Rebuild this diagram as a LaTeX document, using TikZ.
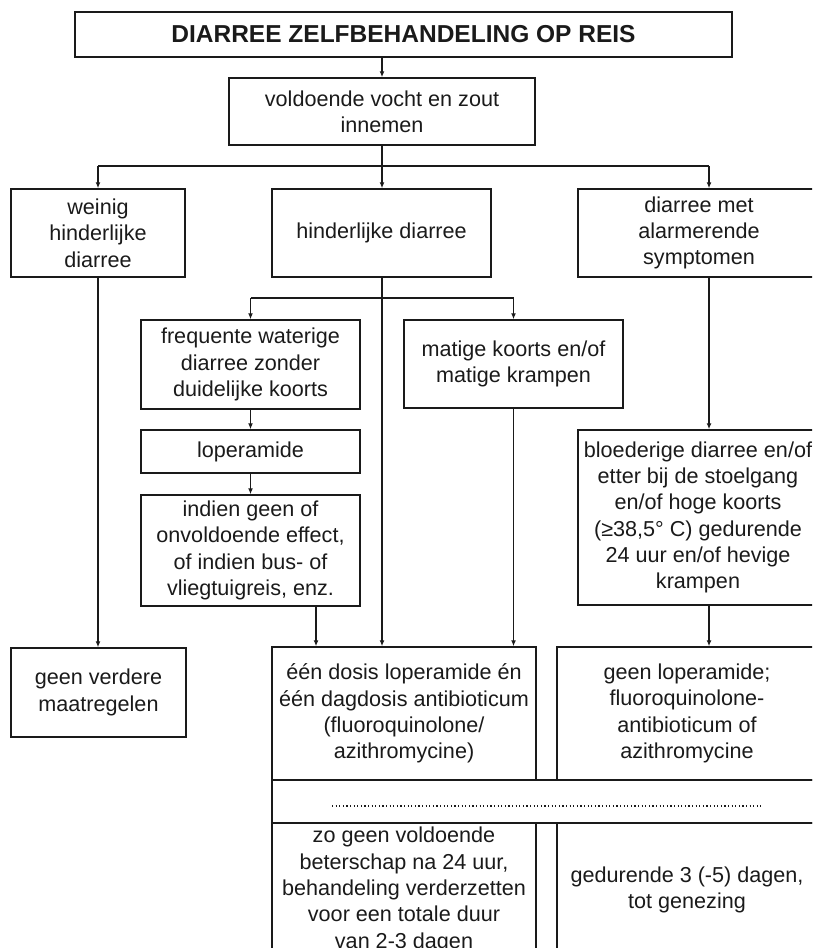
\documentclass[tikz,border=0pt]{standalone}
\usepackage{fontspec}
\setmainfont{Liberation Sans}
\usetikzlibrary{arrows.meta,calc}
\definecolor{ink}{HTML}{1A1A1A}
\begin{document}
\begin{tikzpicture}[x=1pt,y=-1pt,
  box/.style={draw=ink, line width=1.5pt, align=center, inner sep=0pt,
    font=\fontsize{21.6pt}{26.3pt}\selectfont, text=ink},
  conn/.style={draw=ink, line width=1.3pt},
  arr/.style={conn, -{Latex[length=6pt,width=5pt]}}]
\clip (0,0) rectangle (812,948);
% nodes
\node[box, minimum width=657pt, minimum height=45pt] (title) at (403.5,34.5)
  {\fontsize{24.5pt}{28pt}\selectfont\bfseries DIARREE ZELFBEHANDELING OP REIS};
\node[box, minimum width=306pt, minimum height=67pt] (vocht) at (382,111.5)
  {voldoende vocht en zout\\innemen};
\node[box, minimum width=174pt, minimum height=88pt] (weinig) at (98,233)
  {weinig\\hinderlijke\\diarree};
\node[box, minimum width=219pt, minimum height=88pt] (hinder) at (381.5,233)
  {hinderlijke diarree};
\node[box, minimum width=242pt, minimum height=88pt] (alarm) at (699,233)
  {diarree met\\alarmerende\\symptomen};
\node[box, minimum width=219pt, minimum height=89pt] (freq) at (250.5,364.5)
  {frequente waterige\\diarree zonder\\duidelijke koorts};
\node[box, minimum width=219pt, minimum height=88pt] (matig) at (513.5,364)
  {matige koorts en/of\\matige krampen};
\node[box, minimum width=219pt, minimum height=43pt] (lopera) at (250.5,451.5)
  {loperamide};
\node[box, minimum width=219pt, minimum height=111pt] (indien) at (250.5,550.5)
  {indien geen of\\onvoldoende effect,\\of indien bus- of\\vliegtuigreis, enz.};
\node[box, minimum width=240pt, minimum height=175pt] (bloed) at (698,517.5)
  {bloederige diarree en/of\\etter bij de stoelgang\\en/of hoge koorts\\(≥38,5° C) gedurende\\24 uur en/of hevige\\krampen};
\node[box, minimum width=175pt, minimum height=89pt] (verder) at (98.5,692.5)
  {geen verdere\\maatregelen};
\node[box, minimum width=558pt, minimum height=43pt] (band) at (551,801.5) {};
\node[box, minimum width=264pt, minimum height=133pt] (dosis) at (404,713.5)
  {één dosis loperamide én\\één dagdosis antibioticum\\(fluoroquinolone/\\azithromycine)};
\node[box, minimum width=260pt, minimum height=133pt] (geenlop) at (687,713.5)
  {geen loperamide;\\fluoroquinolone-\\antibioticum of\\azithromycine};
\node[box, minimum width=264pt, minimum height=134pt] (zogeen) at (404,890)
  {zo geen voldoende\\beterschap na 24 uur,\\behandeling verderzetten\\voor een totale duur\\van 2-3 dagen};
\node[box, minimum width=260pt, minimum height=134pt] (gedur) at (687,890)
  {gedurende 3 (-5) dagen,\\tot genezing};
% dotted line inside band
\coordinate (dotL) at (332,806);
\coordinate (dotR) at (761,806);
\draw[ink, line width=1.2pt, dash pattern=on 1.2pt off 2.4pt] (dotL) -- (dotR);
% helper coordinates
\coordinate (bus1) at (0,166);
\coordinate (bus2) at (0,298);
\coordinate (rx) at (709,0);
\coordinate (ix) at (316,0);
\coordinate (mx) at (382,0);
% connectors
\draw[arr] (title.south -| vocht.north) -- (vocht.north);
\draw[conn] (vocht.south) -- (bus1 -| vocht.south);
\draw[conn] (bus1 -| weinig.north) -- (bus1 -| rx);
\draw[arr] (bus1 -| weinig.north) -- (weinig.north);
\draw[arr] (bus1 -| mx) -- (hinder.north -| mx);
\draw[arr] (bus1 -| rx) -- (alarm.north -| rx);
\draw[conn] (bus2 -| freq.north) -- (bus2 -| matig.north);
\draw[arr] (bus2 -| freq.north) -- (freq.north);
\draw[arr] (bus2 -| matig.north) -- (matig.north);
\draw[arr] (hinder.south -| mx) -- (dosis.north -| mx);
\draw[arr] (freq.south) -- (lopera.north);
\draw[arr] (lopera.south) -- (indien.north);
\draw[arr] (indien.south -| ix) -- (dosis.north -| ix);
\draw[arr] (matig.south) -- (dosis.north -| matig.south);
\draw[arr] (weinig.south) -- (verder.north -| weinig.south);
\draw[arr] (alarm.south -| rx) -- (bloed.north -| rx);
\draw[arr] (bloed.south -| rx) -- (geenlop.north -| rx);
\end{tikzpicture}
\end{document}
